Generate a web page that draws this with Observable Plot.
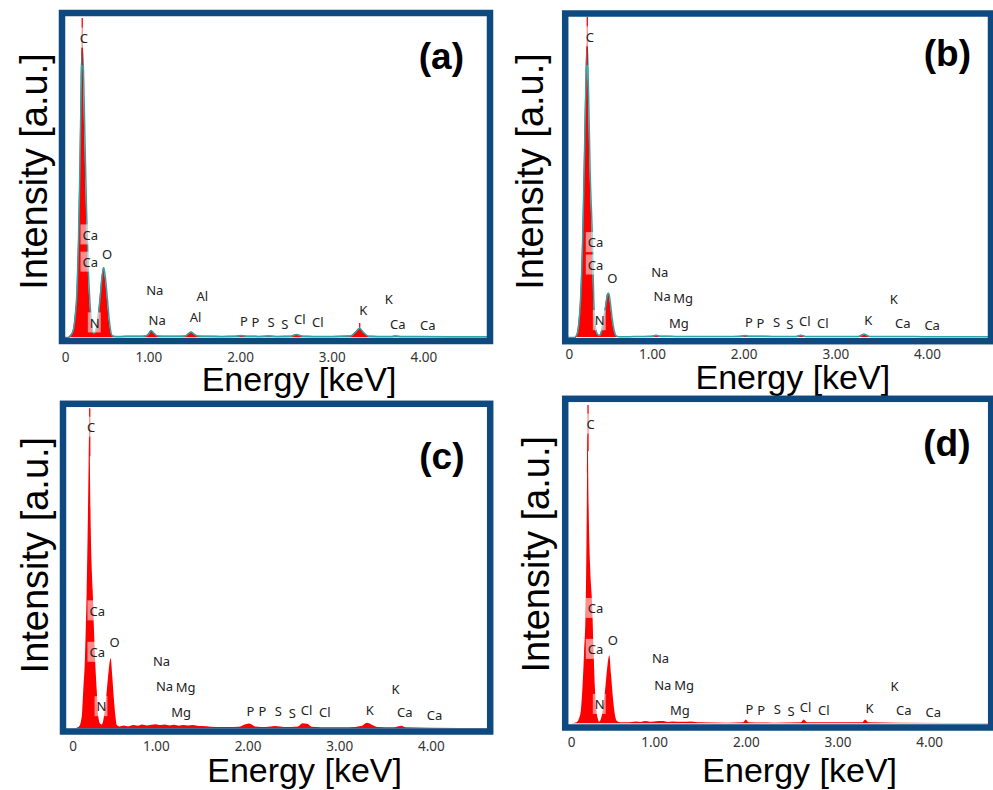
<!DOCTYPE html>
<html>
<head>
<meta charset="utf-8">
<script src="https://cdn.jsdelivr.net/npm/d3@7"></script>
<script src="https://cdn.jsdelivr.net/npm/@observablehq/plot@0.6"></script>
<style>
html,body{margin:0;padding:0;background:#fff;}
#root{position:relative;width:993px;height:790px;overflow:hidden;background:#fff;}
.panel{position:absolute;}
</style>
</head>
<body>
<div id="root"></div>
<script>
// ---------- data ----------
const energyTicks = [0, 1, 2, 3, 4];
const energyTickLabels = ["0", "1.00", "2.00", "3.00", "4.00"];
const panelTags = ["(a)", "(b)", "(c)", "(d)"];
const axisTitleX = "Energy [keV]";
const axisTitleY = "Intensity [a.u.]";

// spectra: [energy keV, intensity a.u.]
const spectrumA = [[0.05,0],[0.123,0],[0.145,0.6],[0.175,2.2],[0.194,6],[0.216,14.7],[0.232,30],[0.249,55],[0.262,80],[0.273,90.6],[0.287,83],[0.303,61.5],[0.32,40],[0.336,24],[0.356,11.6],[0.374,4.7],[0.40,1.25],[0.423,2.2],[0.445,6],[0.467,12],[0.489,19],[0.508,21.9],[0.527,18.4],[0.549,11.6],[0.571,4.7],[0.60,0.6],[0.647,0.3],[0.75,0.4],[0.9,0.4],[0.963,0.5],[1.0,1.2],[1.025,2.2],[1.05,1.5],[1.094,0.5],[1.2,0.4],[1.3,0.4],[1.4,0.5],[1.43,1.1],[1.462,1.7],[1.49,1.1],[1.53,0.5],[1.65,0.4],[1.8,0.35],[1.95,0.4],[2.01,0.6],[2.07,0.4],[2.2,0.35],[2.31,0.45],[2.4,0.35],[2.55,0.4],[2.61,0.95],[2.68,0.4],[2.8,0.35],[3.0,0.35],[3.2,0.5],[3.26,1.8],[3.30,2.9],[3.34,1.6],[3.396,0.4],[3.5,0.35],[3.65,0.35],[3.69,0.5],[3.75,0.35],[4.0,0.3],[4.3,0.25],[4.75,0.2]];
const spectrumB = [[0.05,0],[0.15,0],[0.175,0.8],[0.195,4],[0.215,11.6],[0.24,32.5],[0.26,60],[0.278,85],[0.288,91.6],[0.30,80],[0.32,52],[0.343,32.5],[0.36,11.6],[0.379,3],[0.40,1],[0.422,0.6],[0.445,2],[0.469,6],[0.49,10],[0.51,13.5],[0.524,13.8],[0.54,11],[0.56,6],[0.58,2.5],[0.604,0.5],[0.65,0.2],[0.8,0.3],[1.0,0.4],[1.04,0.7],[1.08,0.4],[1.25,0.35],[1.5,0.3],[1.8,0.3],[1.97,0.4],[2.01,0.6],[2.05,0.4],[2.31,0.35],[2.57,0.35],[2.62,0.7],[2.67,0.35],[3.0,0.3],[3.25,0.35],[3.31,1.0],[3.37,0.35],[3.69,0.35],[4.0,0.25],[4.75,0.2]];
const spectrumC = [[0.05,0],[0.10,0],[0.16,0.5],[0.191,3.6],[0.208,12],[0.227,22.4],[0.245,43],[0.258,65],[0.266,82],[0.271,91],[0.277,89],[0.29,62],[0.311,43],[0.336,22.4],[0.355,12],[0.372,3.6],[0.39,1.5],[0.41,1.2],[0.427,2.6],[0.445,6],[0.465,12],[0.485,18],[0.507,21.9],[0.525,16],[0.545,8],[0.56,3.5],[0.573,1],[0.60,0.6],[0.65,0.9],[0.7,0.6],[0.75,1.0],[0.8,0.8],[0.85,1.2],[0.9,0.9],[0.95,1.1],[1.0,1.3],[1.05,1.0],[1.1,1.2],[1.15,0.9],[1.2,1.1],[1.25,0.8],[1.3,1.0],[1.35,0.9],[1.4,1.0],[1.45,0.8],[1.5,0.7],[1.6,0.5],[1.7,0.4],[1.8,0.4],[1.9,0.5],[1.98,1.3],[2.02,1.5],[2.08,0.6],[2.2,0.4],[2.3,0.7],[2.4,0.4],[2.55,0.6],[2.6,1.6],[2.65,1.4],[2.7,0.5],[2.9,0.3],[3.1,0.3],[3.25,0.8],[3.3,1.7],[3.35,1.2],[3.42,0.4],[3.6,0.3],[3.68,0.8],[3.72,0.3],[4.0,0.2],[4.75,0.1]];
const spectrumD = [[0.05,0],[0.10,0],[0.15,0.3],[0.18,1.5],[0.20,4],[0.216,10.4],[0.235,22],[0.253,36.4],[0.262,58],[0.268,78],[0.271,90.6],[0.276,88],[0.285,68],[0.30,50],[0.325,36],[0.34,22],[0.355,10.4],[0.37,4],[0.385,1.5],[0.398,0.5],[0.42,1.5],[0.445,5],[0.47,12],[0.49,18],[0.511,21.3],[0.53,15],[0.55,8],[0.57,3],[0.591,0.8],[0.63,0.3],[0.7,0.3],[0.8,0.6],[0.85,0.4],[0.9,0.7],[0.95,0.5],[1.0,0.6],[1.1,0.7],[1.15,0.4],[1.2,0.6],[1.3,0.5],[1.4,0.6],[1.5,0.3],[1.8,0.2],[1.97,0.3],[2.0,1.2],[2.03,0.3],[2.3,0.2],[2.6,0.3],[2.63,1.2],[2.67,0.3],[3.27,0.3],[3.3,1.2],[3.34,0.3],[3.68,0.2],[4.75,0.1]];

// narrow raw-count spikes above the fitted peaks
const spikesA = [{e: 0.273, lo: 85, hi: 99.7}, {e: 3.30, lo: 2.9, hi: 4.4}];
const spikesB = [{e: 0.289, lo: 85, hi: 100}];
const spikesC = [{e: 0.273, lo: 85, hi: 100}];
const spikesD = [{e: 0.273, lo: 85, hi: 99.5}];

// element labels: [text, keV, level]
const labelsA = [["C",0.290,93.4],["Ca",0.361,31.9],["Ca",0.361,23.4],["O",0.545,25.9],["N",0.410,4.4],["Na",1.065,14.5],["Na",1.091,5.3],["Al",1.582,12.8],["Al",1.509,6.0],["P",2.036,5.0],["P",2.163,4.5],["S",2.334,4.5],["S",2.483,4.1],["Cl",2.646,5.5],["Cl",2.843,4.6],["K",3.338,8.2],["K",3.617,11.9],["Ca",3.716,4.1],["Ca",4.043,3.5]];
const labelsB = [["C",0.316,93.8],["Ca",0.379,29.5],["Ca",0.379,22.5],["O",0.561,18.3],["N",0.425,5.1],["Na",1.080,20.1],["Na",1.106,12.6],["Mg",1.335,12.1],["Mg",1.287,4.3],["P",2.051,4.6],["P",2.178,4.3],["S",2.353,4.5],["S",2.498,4.1],["Cl",2.662,4.8],["Cl",2.858,4.3],["K",3.353,5.1],["K",3.633,11.8],["Ca",3.731,4.3],["Ca",4.051,3.75]];
const labelsC = [["C",0.289,94.1],["Ca",0.355,36.7],["Ca",0.355,23.75],["O",0.543,26.9],["N",0.401,6.75],["Na",1.056,21.0],["Na",1.089,13.0],["Mg",1.318,12.8],["Mg",1.271,4.9],["P",2.027,5.4],["P",2.158,5.2],["S",2.329,5.2],["S",2.482,4.7],["Cl",2.638,5.7],["Cl",2.837,4.9],["K",3.328,5.7],["K",3.609,12.3],["Ca",3.710,5.1],["Ca",4.034,4.2]];
const labelsD = [["C",0.300,93.5],["Ca",0.355,35.9],["Ca",0.355,23.1],["O",0.543,26.0],["N",0.401,5.9],["Na",1.064,20.2],["Na",1.089,12.0],["Mg",1.322,11.75],["Mg",1.274,3.9],["P",2.034,4.5],["P",2.162,4.2],["S",2.337,4.4],["S",2.489,3.8],["Cl",2.645,4.9],["Cl",2.845,3.9],["K",3.344,4.7],["K",3.616,11.4],["Ca",3.718,4.2],["Ca",4.038,3.3]];

// ---------- layout ----------
const layouts = [
  {left:0,   top:0,   width:495, height:400, mL:61.5, mT:12.5, mR:5.5, mB:59.5, x0:56.7, base:337,   tagDx:-26,   tagDy:44.5, yDx:-27.5, yDy:-5.5,  xDx:23,   xDy:49.5, tickPad:11.2},
  {left:495, top:0,   width:498, height:400, mL:69.7, mT:13,   mR:2.5, mB:59.3, x0:65.3, base:337,   tagDx:-20,   tagDy:40.3, yDx:-34.7, yDy:-5.9,  xDx:14.7, xDy:47.3, tickPad:8.3},
  {left:0,   top:390, width:495, height:400, mL:62.5, mT:13.3, mR:5.3, mB:59,   x0:64.2, base:338.3, tagDx:-25.7, tagDy:53.4, yDx:-27.5, yDy:-12.5, xDx:28,   xDy:50.7, tickPad:9.7},
  {left:495, top:390, width:498, height:400, mL:69.7, mT:8.3,  mR:2.3, mB:63,   x0:67.5, base:333.3, tagDx:-20.7, tagDy:45,   yDx:-28,   yDy:-8.9,  xDx:21.5, xDy:54.7, tickPad:10.4}
];
const panels = [
  {tag: panelTags[0], spectrum: spectrumA, spikes: spikesA, labels: labelsA, outline: true},
  {tag: panelTags[1], spectrum: spectrumB, spikes: spikesB, labels: labelsB, outline: true},
  {tag: panelTags[2], spectrum: spectrumC, spikes: spikesC, labels: labelsC, outline: false},
  {tag: panelTags[3], spectrum: spectrumD, spikes: spikesD, labels: labelsD, outline: false}
];

const PX_PER_KEV = 91.67;
const BORDER = "#0e4a80";
const LABEL_FONT = "'Noto Sans', 'Open Sans', sans-serif";
const TITLE_FONT = "'Liberation Sans', Arial, sans-serif";
const ns = "http://www.w3.org/2000/svg";

// translucent white boxes behind element labels (visible where they overlap the peaks)
function labelBoxes(labels) {
  return (index, scales) => {
    const ctx = document.createElement("canvas").getContext("2d");
    ctx.font = "13px 'Noto Sans'";
    const g = document.createElementNS(ns, "g");
    labels.forEach(([t, e, v]) => {
      const w = ctx.measureText(t).width + 3;
      const cx = scales.x(e), cy = scales.y(v);
      const r = document.createElementNS(ns, "rect");
      r.setAttribute("x", cx - w / 2);
      r.setAttribute("y", cy - 10.5);
      r.setAttribute("width", w);
      r.setAttribute("height", 20);
      r.setAttribute("fill", "#fff");
      r.setAttribute("fill-opacity", 0.55);
      g.appendChild(r);
    });
    return g;
  };
}

const tickText = d => energyTickLabels[energyTicks.indexOf(d)];
const root = document.getElementById("root");

panels.forEach((p, k) => {
  const L = layouts[k];
  const axisOpts = {tickFormat: tickText, tickSize: 0, tickPadding: L.tickPad, fontSize: 13.5, color: "#333", label: null};
  const chart = Plot.plot({
    width: L.width,
    height: L.height,
    marginLeft: L.mL, marginTop: L.mT, marginRight: L.mR, marginBottom: L.mB,
    style: {background: "transparent", overflow: "visible", fontFamily: LABEL_FONT},
    x: {domain: [0, 4], range: [L.x0, L.x0 + 4 * PX_PER_KEV]},
    y: {domain: [0, 100], range: [L.base, L.base - 320], axis: null},
    marks: [
      Plot.areaY(p.spectrum, {x: d => d[0], y: d => d[1], fill: "#ff0000", curve: "monotone-x", clip: true}),
      p.outline ? Plot.lineY(p.spectrum, {x: d => d[0], y: d => d[1], stroke: "#2ba6a8", strokeWidth: 1.5, curve: "monotone-x", clip: true}) : null,
      Plot.ruleX(p.spikes, {x: d => d.e, y1: d => d.lo, y2: d => d.hi, stroke: "#ff0000", strokeWidth: 1.3}),
      labelBoxes(p.labels),
      Plot.text(p.labels, {x: d => d[1], y: d => d[2], text: d => d[0], fontSize: 13, fontFamily: LABEL_FONT, fill: "#222", lineAnchor: "middle"}),
      Plot.frame({stroke: BORDER, strokeWidth: 6.5}),
      Plot.axisX(energyTicks.slice(0, 1), {...axisOpts, dx: 8.5}),
      Plot.axisX(energyTicks.slice(1), axisOpts),
      Plot.text([axisTitleY], {frameAnchor: "left", rotate: -90, dx: L.yDx, dy: L.yDy, fontSize: 38, fontFamily: TITLE_FONT, fill: "#000", lineAnchor: "middle", textAnchor: "middle"}),
      Plot.text([axisTitleX], {frameAnchor: "bottom", dx: L.xDx, dy: L.xDy, fontSize: 34, fontFamily: TITLE_FONT, fill: "#000", lineAnchor: "bottom", textAnchor: "middle"}),
      Plot.text([p.tag], {frameAnchor: "top-right", dx: L.tagDx, dy: L.tagDy, fontSize: 37, fontWeight: "bold", fontFamily: TITLE_FONT, fill: "#000", lineAnchor: "middle", textAnchor: "end"})
    ]
  });
  const wrap = document.createElement("div");
  wrap.className = "panel";
  wrap.style.left = L.left + "px";
  wrap.style.top = L.top + "px";
  wrap.appendChild(chart);
  root.appendChild(wrap);
});
</script>
</body>
</html>
